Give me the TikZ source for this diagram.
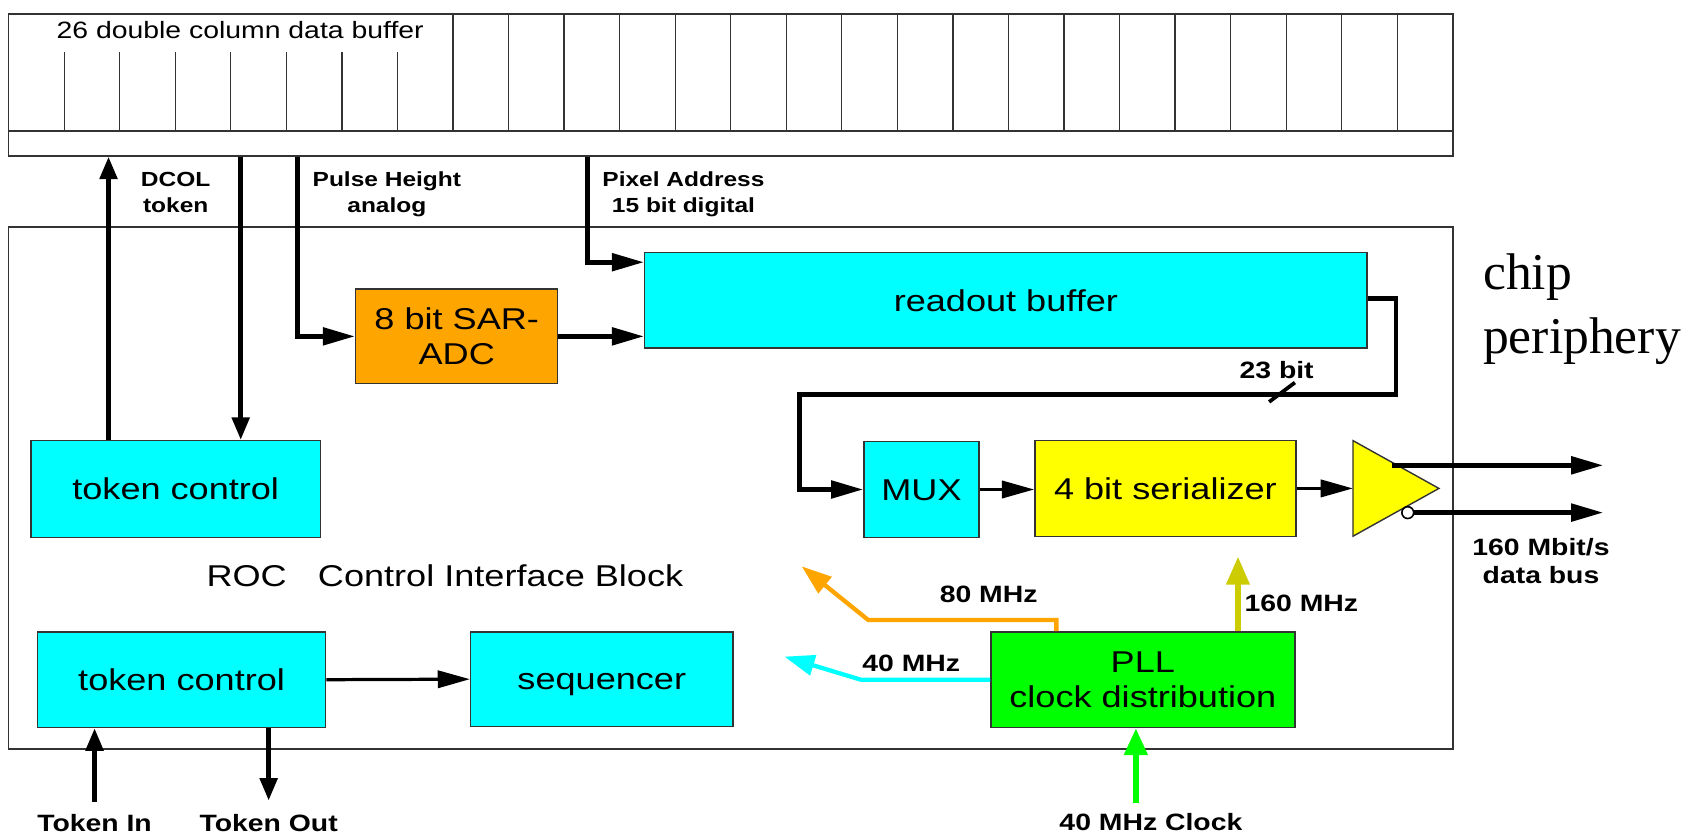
\documentclass[tikz,border=0pt]{standalone}
\usepackage{fontspec}
\setmainfont{Liberation Sans}[FakeStretch=1.2]
\newfontfamily\chipfont{Liberation Serif}
\usetikzlibrary{arrows.meta,calc}
\definecolor{cy}{HTML}{00FFFF}
\definecolor{orng}{HTML}{FFA500}
\definecolor{ylw}{HTML}{FFFF00}
\definecolor{grn}{HTML}{00FF00}
\definecolor{olv}{HTML}{CCCC00}
\definecolor{edge}{HTML}{333333}
\newcommand\boxtext{\fontsize{28}{33}\selectfont}
\newcommand\buftext{\fontsize{22}{26}\selectfont}
\newcommand\biglab{\bfseries\fontsize{22}{26}\selectfont}
\newcommand\smalllab{\bfseries\fontsize{19}{24}\selectfont}
\newcommand\chiptext{\chipfont\fontsize{48}{58}\selectfont}
\begin{document}
\begin{tikzpicture}[x=1pt,y=-1pt,
  frame/.style={draw=edge, line width=1.5pt},
  blk/.style={draw=edge, line width=1.3pt, inner sep=0pt, font=\boxtext, align=center},
  oneline/.style={text height=20pt, text depth=0pt},
  bus/.style={line width=4.5pt},
  sig/.style={line width=3pt},
  htip/.style={-{Triangle[length=30pt,width=16pt]}},
  vtip/.style={-{Triangle[length=21pt,width=16pt]}},
  lab/.style={font=\biglab, inner sep=0pt, align=center},
  slab/.style={font=\smalllab, inner sep=0pt, align=center},
  divider/.style={draw=edge, line width=1.2pt}
]
\fill[white] (0,0) rectangle (1568,777);
\useasboundingbox (0,0) rectangle (1568,777);

% double column data buffer
\node[frame, minimum width=1344pt, minimum height=132pt, inner sep=0] (buf) at (680,79) {};
\draw[divider] (8,122) -- (1352,122);
\foreach \k in {1,...,7} \draw[divider] ({8+51.69*\k},48) -- ({8+51.69*\k},122);
\foreach \k in {8,...,25} \draw[divider] ({8+51.69*\k},13) -- ({8+51.69*\k},122);
\node[font=\buftext, anchor=base, inner sep=0] (lbuf) at (223.5,35.7) {26 double column data buffer};

% ROC periphery frame
\node[frame, minimum width=1344pt, minimum height=486pt, inner sep=0] (roc) at (680,454) {};

% blocks
\node[blk, oneline, fill=cy, minimum width=269pt, minimum height=90pt] (tc1) at (163.5,455) {token control};
\node[blk, oneline, fill=cy, minimum width=268pt, minimum height=89pt] (tc2) at (169,632.5) {token control};
\node[blk, oneline, fill=cy, minimum width=244pt, minimum height=88pt] (seq) at (560,632) {sequencer};
\node[blk, fill=orng, minimum width=188pt, minimum height=88pt] (adc) at (425,313) {8 bit SAR-\\ADC};
\node[blk, oneline, fill=cy, minimum width=672pt, minimum height=89pt] (rob) at (936,279.5) {readout buffer};
\node[blk, oneline, fill=cy, minimum width=107pt, minimum height=89pt] (mux) at (857.5,455.5) {MUX};
\node[blk, oneline, fill=ylw, minimum width=243pt, minimum height=89pt] (ser) at (1084.5,454.5) {4 bit serializer};
\node[blk, fill=grn, minimum width=283pt, minimum height=89pt] (pll) at (1063.5,632.5) {PLL\\clock distribution};

% output driver
\draw[draw=edge, line width=1.3pt, fill=ylw] (1259,410) -- (1339,454.5) -- (1259,499) -- cycle;
\coordinate (drvin) at (1259,454.5);
\coordinate (o1) at (1295,433);
\coordinate (o1end) at (1492,433);
\coordinate (o2end) at (1492,477);

% helper coordinates
\coordinate (xd) at (101,0);
\coordinate (xt) at (224,0);
\coordinate (xp) at (277,0);
\coordinate (pa) at (547,244);
\coordinate (b1) at (1299,278);
\coordinate (b2) at (744,367);
\coordinate (tin) at (88,746);
\coordinate (tout) at (250,745);
\coordinate (f80) at (983,577);
\coordinate (f80b) at (808,577);
\coordinate (f80tip) at (746,527);
\coordinate (c40) at (801,632.5);
\coordinate (c40tip) at (730,611);
\coordinate (f160) at (1152,518);
\coordinate (clk) at (1057,747);

% black connectors
\draw[bus,vtip] (tc1.north -| xd) -- (buf.south -| xd);
\draw[bus,vtip] (buf.south -| xt) -- (tc1.north -| xt);
\draw[bus,htip] (buf.south -| xp) |- (adc.west);
\draw[bus,htip] (buf.south -| pa) -- (pa) -- (rob.west |- pa);
\draw[bus,htip] (adc.east) -- (rob.west |- adc.east);
\draw[bus,htip] (rob.east |- b1) -- (b1) |- (b2) |- (mux.west);
\draw[line width=3.5pt] (1181,374) -- (1205,356);
\draw[sig,htip] (mux.east) -- (ser.west |- mux.east);
\draw[sig,htip] (ser.east) -- (drvin);
\draw[bus,htip] (o1) -- (o1end);
\node[circle, draw, fill=white, line width=1.5pt, minimum size=11pt, inner sep=0] (bub) at (1310,477) {};
\draw[bus,htip] (bub.east) -- (o2end);
\draw[sig,htip] (tc2.east) -- (seq.west);
\draw[bus,vtip] (tin) -- (tc2.south -| tin);
\draw[bus,vtip] (tc2.south -| tout) -- (tout);

% clock connectors
\draw[line width=4pt, orng, -{Triangle[length=28pt,width=19pt]}] (pll.north -| f80) -- (f80) -- (f80b) -- (f80tip);
\draw[line width=4pt, cy, -{Triangle[length=28pt,width=19pt]}] (pll.west) -- (c40) -- (c40tip);
\draw[line width=5pt, olv, -{Triangle[length=26pt,width=21pt]}] (pll.north -| f160) -- (f160);
\draw[line width=5.5pt, grn, -{Triangle[length=25pt,width=21pt]}] (clk) -- (pll.south -| clk);

% labels
\node[slab] (lDCOL) at (163.5,179) {DCOL\\token};
\node[slab] (lPH) at (360,181) {Pulse Height\\analog};
\node[slab] (lPA) at (636,181) {Pixel Address\\15 bit digital};
\node[lab] (l23) at (1188,344) {23 bit};
\node[lab] (lbus) at (1434,522) {160 Mbit/s\\data bus};
\node[lab] (l80) at (920,553) {80 MHz};
\node[lab] (l40) at (848,617) {40 MHz};
\node[lab, anchor=west] (l160) at (1158,561) {160 MHz};
\node[lab] (lclk) at (1071,765) {40 MHz Clock};
\node[lab] (ltin) at (88,766) {Token In};
\node[lab] (ltout) at (250,766) {Token Out};
\node[font=\boxtext, inner sep=0, text height=20pt, text depth=0pt] (lroc) at (414,536) {ROC\hspace{29pt}Control Interface Block};
\node[font=\chiptext, anchor=base west, inner sep=0] (chip) at (1380,269) {chip};
\node[font=\chiptext, anchor=base west, inner sep=0] (peri) at (1380,329) {periphery};
\end{tikzpicture}
\end{document}
